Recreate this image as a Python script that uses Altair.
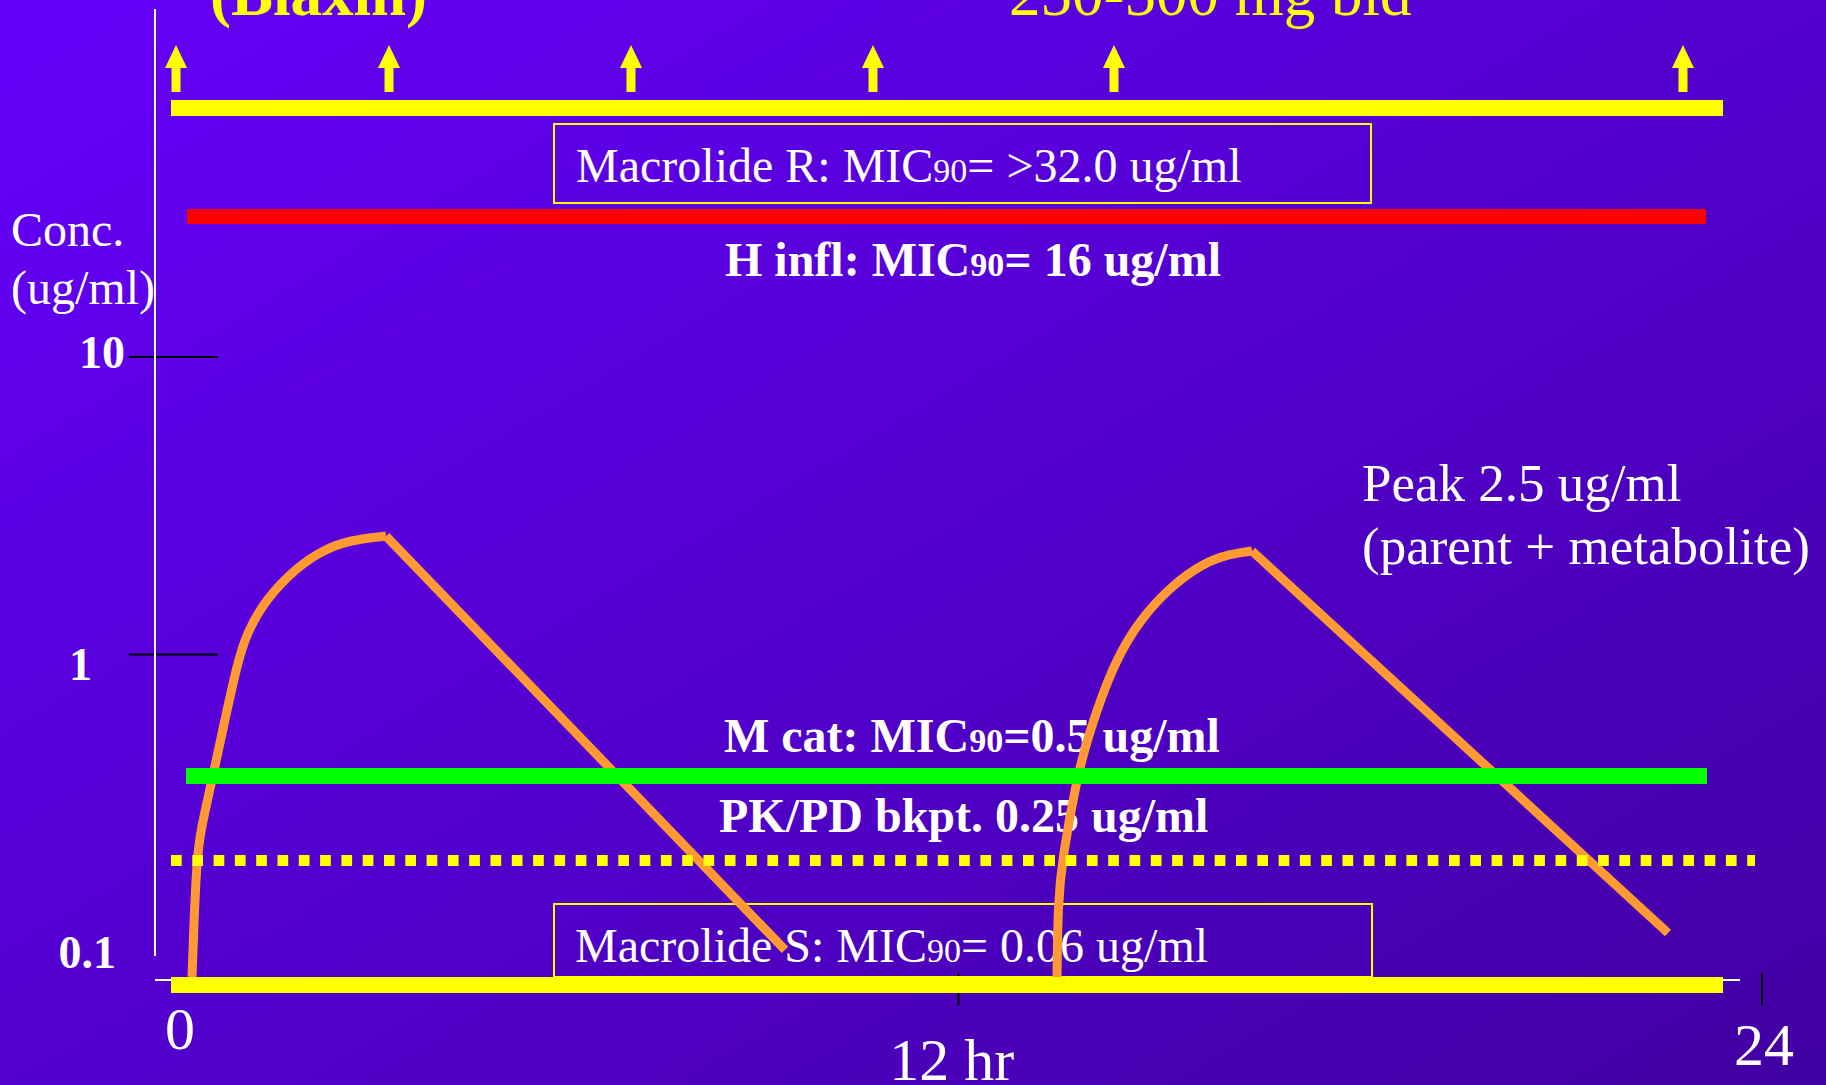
import altair as alt
import pandas as pd

SERIF = "Liberation Serif"
W, H = 1826, 1085
YELLOW = "#FFFF00"
ORANGE = "#FF9933"

# ---------------- values (hours / ug/ml) ----------------
dose_hr = [0.314, 3.495, 7.109, 10.723, 14.322, 22.820]
dose_marker_conc = [93.27, 93.27, 93.27, 93.27, 93.27, 93.27]

rise1_hr = [0.553, 0.582, 0.627, 0.672, 0.866, 1.001, 1.240, 1.374, 1.643, 2.121, 2.509, 2.912, 3.450]
rise1_conc = [0.0824, 0.1281, 0.2038, 0.2512, 0.3905, 0.5446, 0.9583, 1.181, 1.525, 1.968, 2.245, 2.426, 2.502]
fall1_hr = [3.450, 9.409]
fall1_conc = [2.502, 0.1016]
rise2_hr = [13.471, 13.486, 13.546, 13.770, 13.934, 14.188, 14.412, 14.711, 15.159, 15.652, 16.055, 16.383]
rise2_conc = [0.0824, 0.1461, 0.2038, 0.3875, 0.5280, 0.7776, 1.012, 1.306, 1.686, 2.030, 2.177, 2.228]
fall2_hr = [16.383, 22.596]
fall2_conc = [2.228, 0.1158]

level_names = ["resistant band", "H infl", "M cat", "PK/PD bkpt", "susceptible band"]
level_start_hr = [0.239, 0.478, 0.463, 0.239, 0.239]
level_end_hr = [23.418, 23.164, 23.179, 23.896, 23.418]
level_conc = [68.71, 29.67, 0.3905, 0.2030, 0.07746]

box_names = ["Macrolide R", "Macrolide S"]
box_start_hr = [5.959, 5.959]
box_end_hr = [18.161, 18.176]
box_top_conc = [60.70, 0.1450]
box_bottom_conc = [32.93, 0.0824]

mic_prefix = ["Macrolide R: MIC", "H infl: MIC", "M cat: MIC", "Macrolide S: MIC"]
mic_sub = ["90", "90", "90", "90"]
mic_suffix = ["= >32.0 ug/ml", "= 16 ug/ml", "=0.5 ug/ml", "= 0.06 ug/ml"]
mic_hr = [11.624, 12.176, 12.160, 11.530]
mic_conc = [38.74, 18.72, 0.4702, 0.09256]
mic_bold = [False, True, True, False]

bkpt_label = ["PK/PD bkpt. 0.25 ug/ml"]
bkpt_hr = [8.423]
bkpt_conc = [0.2532]

peak_lines = ["Peak 2.5 ug/ml", "(parent + metabolite)"]
peak_hr = [18.026, 18.026]
peak_conc = [3.281, 2.015]

ytitle_lines = ["Conc.", "(ug/ml)"]
ytitle_hr = [-2.151, -2.151]
ytitle_conc = [23.61, 15.08]

title_bold = ["(Biaxin)"]
title_bold_hr = [0.821]
title_regular = ["250-500 mg bid"]
title_regular_hr = [12.754]
title_conc = [141.1]

# axis ticks and tick labels, as placed on the slide
y_tick_conc = [10, 1]
y_tick_from_hr = [-0.388]
y_tick_to_hr = [0.941]
y_label_text = ["10", "1", "0.1"]
y_label_hr = [-0.448, -0.941, -0.582]
y_label_conc = [9.184, 0.8207, 0.08835]

x_tick_hr = [12, 24]
x_tick_top_conc = [0.08499]
x_tick_bottom_conc = [0.06633]
x_label_text = ["0", "12 hr", "24"]
x_label_hr = [0.373, 11.90, 24.03]
x_label_conc = [0.04720, 0.03713, 0.04171]

yaxis_line_hr = [0.0]
yaxis_line_bottom = [0.09695]
yaxis_line_top = [147.8]
xaxis_line_conc = [0.0805]
xaxis_line_start = [0.0]
xaxis_line_end = [23.672]

# ---------------- layout (pixel anchors of the slide) ----------------
X0_PX, X24_PX = 155, 1762
PX_PER_HR = (X24_PX - X0_PX) / 24
Y10_PX, PX_PER_DECADE = 357, 297.5
x_domain = [-X0_PX / PX_PER_HR, (W - X0_PX) / PX_PER_HR]
y_domain = [10 ** (1 - (H - Y10_PX) / PX_PER_DECADE), 10 ** (1 + Y10_PX / PX_PER_DECADE)]

xs = alt.Scale(domain=x_domain, nice=False, zero=False)
ys = alt.Scale(type="log", domain=y_domain, nice=False)

# ---------------- tables ----------------
levels = pd.DataFrame({"name": level_names, "x0": level_start_hr, "x1": level_end_hr, "conc": level_conc})
boxes = pd.DataFrame({"name": box_names, "x0": box_start_hr, "x1": box_end_hr,
                      "top": box_top_conc, "bottom": box_bottom_conc})
mic = pd.DataFrame({"prefix": mic_prefix, "sub": mic_sub, "suffix": mic_suffix,
                    "hr": mic_hr, "conc": mic_conc, "bold": mic_bold})
rise_df = pd.DataFrame({"hr": rise1_hr + rise2_hr, "conc": rise1_conc + rise2_conc,
                        "dose": ["1"] * len(rise1_hr) + ["2"] * len(rise2_hr)})
fall_df = pd.DataFrame({"hr": fall1_hr + fall2_hr, "conc": fall1_conc + fall2_conc,
                        "dose": ["1"] * len(fall1_hr) + ["2"] * len(fall2_hr)})
doses = pd.DataFrame({"hr": dose_hr, "conc": dose_marker_conc})
y_ticks = pd.DataFrame({"conc": y_tick_conc,
                        "a": y_tick_from_hr * len(y_tick_conc), "b": y_tick_to_hr * len(y_tick_conc)})
x_ticks = pd.DataFrame({"hr": x_tick_hr,
                        "top": x_tick_top_conc * len(x_tick_hr), "bottom": x_tick_bottom_conc * len(x_tick_hr)})

X = lambda f: alt.X(f, axis=None)
Y = lambda f: alt.Y(f, axis=None)

background = alt.Chart(pd.DataFrame({"k": [0]})).mark_rect(
    fill={"gradient": "linear", "x1": 0, "y1": 0, "x2": 1, "y2": 1,
          "stops": [{"offset": 0, "color": "#6500FA"}, {"offset": 1, "color": "#4100A2"}]}
).encode(x=alt.value(0), x2=alt.value(W), y=alt.value(0), y2=alt.value(H))

ytick_layer = alt.Chart(y_ticks).mark_rule(color="black", strokeWidth=2).encode(
    x=alt.X("a:Q", scale=xs, axis=None), x2="b:Q", y=alt.Y("conc:Q", scale=ys, axis=None))
xtick_layer = alt.Chart(x_ticks).mark_rule(color="black", strokeWidth=2).encode(
    x=X("hr:Q"), y=Y("top:Q"), y2="bottom:Q")

yline = alt.Chart(pd.DataFrame({"hr": yaxis_line_hr, "lo": yaxis_line_bottom, "hi": yaxis_line_top})).mark_rule(
    color="white", strokeWidth=2).encode(x=X("hr:Q"), y=Y("lo:Q"), y2="hi:Q")
xline = alt.Chart(pd.DataFrame({"conc": xaxis_line_conc, "a": xaxis_line_start, "b": xaxis_line_end})).mark_rule(
    color="white", strokeWidth=2).encode(x=X("a:Q"), x2="b:Q", y=Y("conc:Q"))


def level(name, color, width, dash=None):
    kw = dict(color=color, strokeWidth=width, strokeCap="butt")
    if dash:
        kw["strokeDash"] = dash
    return alt.Chart(levels).transform_filter(alt.datum.name == name).mark_rule(**kw).encode(
        x=X("x0:Q"), x2="x1:Q", y=Y("conc:Q"))


def text(df, field, align, size, color, bold=False, dx=0):
    kw = dict(align=align, baseline="alphabetic", font=SERIF, fontSize=size, color=color)
    if bold:
        kw["fontWeight"] = "bold"
    if dx:
        kw["dx"] = dx
    return alt.Chart(df).mark_text(**kw).encode(x=X("hr:Q"), y=Y("conc:Q"), text=alt.Text(f"{field}:N"))


box_layer = alt.Chart(boxes).mark_rect(filled=False, color=YELLOW, strokeWidth=2).encode(
    x=X("x0:Q"), x2="x1:Q", y=Y("top:Q"), y2="bottom:Q")

mic_reg = mic[~mic["bold"]]
mic_bld = mic[mic["bold"]]
mic_layers = []
for df, b in [(mic_reg, False), (mic_bld, True)]:
    mic_layers += [
        text(df, "prefix", "right", 48, "white", b),
        text(df, "sub", "left", 34, "white", b),
        text(df, "suffix", "left", 48, "white", b, dx=34),
    ]

bkpt = text(pd.DataFrame({"label": bkpt_label, "hr": bkpt_hr, "conc": bkpt_conc}), "label", "left", 48, "white", True)
peak = text(pd.DataFrame({"label": peak_lines, "hr": peak_hr, "conc": peak_conc}), "label", "left", 53, "white")
ytitle = text(pd.DataFrame({"label": ytitle_lines, "hr": ytitle_hr, "conc": ytitle_conc}), "label", "left", 48, "white")
t_bold = text(pd.DataFrame({"label": title_bold, "hr": title_bold_hr, "conc": title_conc}), "label", "left", 63, YELLOW, True)
t_reg = text(pd.DataFrame({"label": title_regular, "hr": title_regular_hr, "conc": title_conc}), "label", "left", 63, YELLOW)
ylabels = text(pd.DataFrame({"label": y_label_text, "hr": y_label_hr, "conc": y_label_conc}), "label", "right", 46, "white", True)
xlabels = text(pd.DataFrame({"label": x_label_text, "hr": x_label_hr, "conc": x_label_conc}), "label", "center", 60, "white")

rise = alt.Chart(rise_df).mark_line(color=ORANGE, strokeWidth=9, interpolate="basis", strokeCap="butt").encode(
    x=X("hr:Q"), y=Y("conc:Q"), detail="dose:N")
fall = alt.Chart(fall_df).mark_line(color=ORANGE, strokeWidth=9, strokeCap="butt").encode(
    x=X("hr:Q"), y=Y("conc:Q"), detail="dose:N")

ARROW = "M0,-1 L0.468,-0.021 L0.191,-0.021 L0.191,1 L-0.191,1 L-0.191,-0.021 L-0.468,-0.021 Z"
arrows = alt.Chart(doses).mark_point(shape=ARROW, size=2209, filled=True, color=YELLOW, opacity=1).encode(
    x=X("hr:Q"), y=Y("conc:Q"))

chart = alt.layer(
    background,
    ytick_layer,
    xtick_layer,
    yline,
    xline,
    ylabels,
    xlabels,
    level("resistant band", YELLOW, 16),
    level("H infl", "#FF0000", 15),
    box_layer,
    *mic_layers,
    bkpt, peak, ytitle, t_bold, t_reg,
    rise, fall,
    level("M cat", "#00FF00", 16),
    level("PK/PD bkpt", YELLOW, 11, [10.7, 10.6]),
    level("susceptible band", YELLOW, 16),
    arrows,
).properties(
    width=W, height=H, padding=0, autosize=alt.AutoSizeParams(type="none"),
    background="#5200CC",
).configure_view(stroke=None)

chart.save("out.html", embed_options={"renderer": "svg", "actions": False})
